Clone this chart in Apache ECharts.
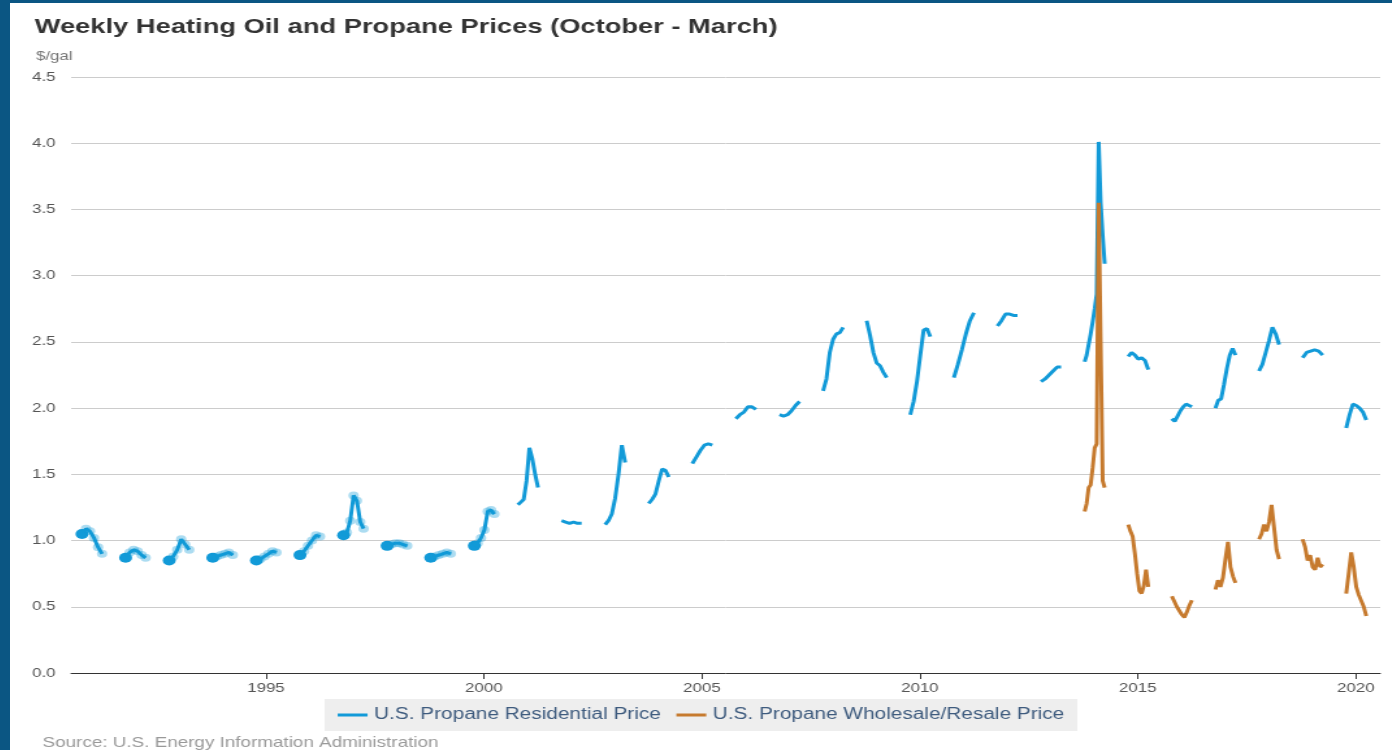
<!DOCTYPE html>
<html>
<head>
<meta charset="utf-8">
<title>Weekly Heating Oil and Propane Prices</title>
<script src="https://cdn.jsdelivr.net/npm/echarts@6/dist/echarts.min.js"></script>
<style>
  html, body { margin: 0; padding: 0; width: 1392px; height: 750px; overflow: hidden; background: #0b5683; }
  #frame { position: absolute; left: 10px; top: 3px; width: 1382px; height: 747px; background: #fff; overflow: hidden; }
  /* the original graphic is stretched sideways, so draw narrow and widen it */
  #chart { position: absolute; left: 0; top: 0; width: 1063px; height: 747px; transform: scaleX(1.3); transform-origin: 0 0; }
</style>
</head>
<body>
<div id="frame"><div id="chart"></div></div>
<script>
// weekly prices, one list per heating season (October - March), $/gal
const seasonYears = [1990, 1991, 1992, 1993, 1994, 1995, 1996, 1997, 1998, 1999,
  2000, 2001, 2002, 2003, 2004, 2005, 2006, 2007, 2008, 2009,
  2010, 2011, 2012, 2013, 2014, 2015, 2016, 2017, 2018, 2019];

const residential = [
  [1.05, 1.09, 1.07, 1.02, 0.95, 0.90],
  [0.87, 0.91, 0.93, 0.92, 0.89, 0.87],
  [0.85, 0.88, 0.93, 1.01, 0.97, 0.93],
  [0.87, 0.88, 0.89, 0.90, 0.91, 0.89],
  [0.85, 0.86, 0.88, 0.90, 0.92, 0.91],
  [0.89, 0.92, 0.96, 1.00, 1.04, 1.03],
  [1.04, 1.06, 1.15, 1.34, 1.30, 1.14, 1.09],
  [0.96, 0.97, 0.98, 0.98, 0.97, 0.96],
  [0.87, 0.88, 0.89, 0.90, 0.91, 0.90],
  [0.96, 0.98, 1.02, 1.08, 1.22, 1.23, 1.20],
  [1.27, 1.29, 1.31, 1.45, 1.70, 1.62, 1.50, 1.40],
  [1.15, 1.14, 1.13, 1.14, 1.13, 1.13],
  [1.12, 1.15, 1.20, 1.32, 1.50, 1.72, 1.59],
  [1.28, 1.31, 1.35, 1.45, 1.54, 1.53, 1.48],
  [1.58, 1.63, 1.68, 1.72, 1.73, 1.72],
  [1.92, 1.95, 1.97, 2.01, 2.01, 1.99],
  [1.95, 1.94, 1.95, 1.98, 2.02, 2.05],
  [2.13, 2.22, 2.42, 2.52, 2.56, 2.57, 2.61],
  [2.66, 2.55, 2.42, 2.34, 2.32, 2.27, 2.23],
  [1.95, 2.05, 2.20, 2.40, 2.59, 2.60, 2.54],
  [2.23, 2.33, 2.44, 2.56, 2.66, 2.72],
  [2.62, 2.66, 2.71, 2.71, 2.70, 2.70],
  [2.20, 2.22, 2.25, 2.28, 2.31, 2.31],
  [2.35, 2.40, 2.48, 2.56, 2.65, 2.75, 2.86, 4.01, 3.55, 3.30, 3.09],
  [2.39, 2.42, 2.40, 2.37, 2.38, 2.36, 2.29],
  [1.92, 1.90, 1.94, 1.98, 2.01, 2.03, 2.02, 2.01],
  [2.00, 2.06, 2.07, 2.18, 2.30, 2.40, 2.45, 2.40],
  [2.28, 2.33, 2.42, 2.51, 2.61, 2.56, 2.48],
  [2.38, 2.42, 2.43, 2.44, 2.43, 2.40],
  [1.85, 1.95, 2.03, 2.02, 2.00, 1.97, 1.91]
];

// wholesale/resale series only starts with the 2013-14 season
const wholesaleYears = [2013, 2014, 2015, 2016, 2017, 2018, 2019];
const wholesale = [
  [1.22, 1.28, 1.40, 1.42, 1.55, 1.70, 1.73, 3.55, 2.50, 1.45, 1.40],
  [1.12, 1.07, 1.03, 0.90, 0.75, 0.62, 0.60, 0.66, 0.78, 0.65],
  [0.58, 0.54, 0.50, 0.47, 0.44, 0.42, 0.46, 0.51, 0.55],
  [0.63, 0.70, 0.65, 0.72, 0.86, 0.99, 0.80, 0.73, 0.68],
  [1.01, 1.05, 1.12, 1.07, 1.14, 1.27, 1.10, 0.93, 0.86],
  [1.01, 0.95, 0.85, 0.89, 0.80, 0.78, 0.87, 0.80, 0.82],
  [0.60, 0.75, 0.91, 0.80, 0.65, 0.59, 0.58, 0.50, 0.43]
];

const yearTicks = [1995, 2000, 2005, 2010, 2015, 2020];

// spread each season's weekly readings over early October .. late March
function buildData(years, seasons, dotted) {
  const out = [];
  seasons.forEach((vals, s) => {
    const start = years[s] + 0.78, end = years[s] + 1.24;
    vals.forEach((v, i) => {
      const x = start + (end - start) * i / (vals.length - 1);
      const item = { value: [x, v] };
      if (dotted && years[s] < 2000) { // old records show up as blobs
        item.symbol = 'circle';
        item.symbolSize = i === 0 ? 10 : 8;
        item.itemStyle = { opacity: i === 0 ? 1 : 0.35 };
      }
      out.push(item);
    });
    out.push({ value: [end + 0.01, null] }); // gap between seasons
  });
  return out;
}

const chart = echarts.init(document.getElementById('chart'));
const fontFam = '"Liberation Sans", Arial, sans-serif';
const option = {
  animation: false,
  textStyle: { fontFamily: fontFam },
  title: [{
    text: 'Weekly Heating Oil and Propane Prices (October - March)',
    left: 14, top: 9,
    textStyle: { fontSize: 21, fontWeight: 'bold', color: '#333', fontFamily: fontFam }
  }, {
    text: '$/gal',
    left: 15, top: 42,
    textStyle: { fontSize: 13, fontWeight: 'normal', color: '#777', fontFamily: fontFam }
  }, {
    text: 'Source: U.S. Energy Information Administration',
    left: 20, top: 727,
    textStyle: { fontSize: 14.5, fontWeight: 'normal', color: '#999', fontFamily: fontFam }
  }],
  legend: {
    bottom: 19,
    left: 'center',
    backgroundColor: '#eeeeee',
    padding: [8, 10, 8, 10],
    itemGap: 12,
    itemWidth: 23,
    itemHeight: 3,
    icon: 'rect',
    textStyle: { fontSize: 16, color: '#3e5b7e', fontFamily: fontFam },
    data: ['U.S. Propane Residential Price', 'U.S. Propane Wholesale/Resale Price']
  },
  grid: { left: 47, right: 9, top: 74, bottom: 77 },
  xAxis: {
    type: 'value',
    min: 1990.53,
    max: 2020.56,
    axisLine: { lineStyle: { color: '#333', width: 1 } },
    axisTick: { customValues: yearTicks, length: 6, lineStyle: { color: '#333' } },
    axisLabel: { customValues: yearTicks, color: '#555', fontSize: 13, margin: 9, formatter: v => String(v) },
    splitLine: { show: false }
  },
  yAxis: {
    type: 'value',
    min: 0,
    max: 4.5,
    interval: 0.5,
    axisLine: { show: false },
    axisTick: { show: false },
    axisLabel: { color: '#555', fontSize: 13, margin: 12, formatter: v => v.toFixed(1) },
    splitLine: { lineStyle: { color: '#cccccc', width: 1 } }
  },
  series: [{
    name: 'U.S. Propane Residential Price',
    type: 'line',
    symbol: 'none',
    color: '#129ad8',
    lineStyle: { width: 3, color: '#129ad8' },
    connectNulls: false,
    data: buildData(seasonYears, residential, true)
  }, {
    name: 'U.S. Propane Wholesale/Resale Price',
    type: 'line',
    symbol: 'none',
    color: '#c67a2e',
    lineStyle: { width: 3, color: '#c67a2e' },
    connectNulls: false,
    data: buildData(wholesaleYears, wholesale, false)
  }]
};
chart.setOption(option);
</script>
</body>
</html>
